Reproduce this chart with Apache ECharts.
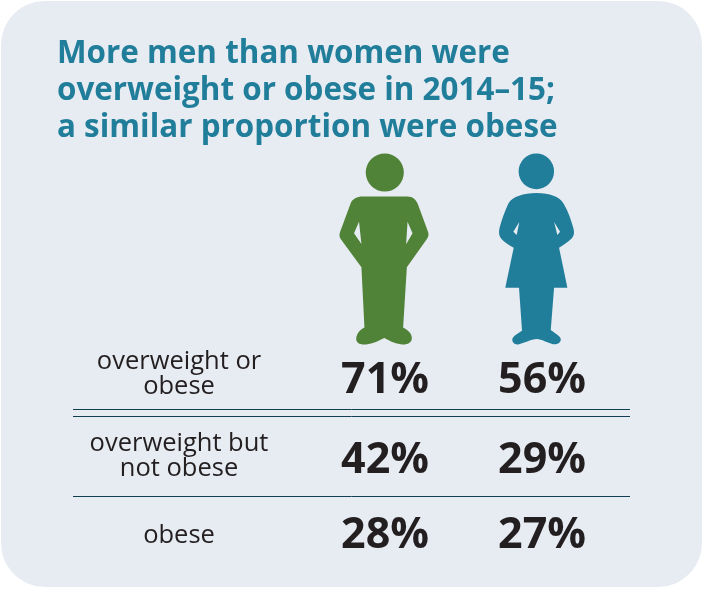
<!DOCTYPE html>
<html>
<head>
<meta charset="utf-8" />
<title>Overweight and obesity</title>
<script src="https://cdn.jsdelivr.net/npm/echarts@6/dist/echarts.min.js"></script>
<style>
html,body{margin:0;padding:0;background:#fff;}
#main{width:703px;height:589px;}
</style>
</head>
<body>
<div id="main"></div>
<script type="text/javascript">
var titleText = 'More men than women were\noverweight or obese in 2014–15;\na similar proportion were obese';
var rowLabels = ['overweight or\nobese', 'overweight but\nnot obese', 'obese'];
var groups = ['Men', 'Women'];
var menValues = [71, 42, 28];
var womenValues = [56, 29, 27];

var teal = '#217e9a';
var green = '#508238';
var dark = '#231f20';
var ruleColor = '#0f3f50';

function circlePath(cx, cy, r) {
  return 'M' + (cx - r) + ' ' + cy + 'A' + r + ' ' + r + ' 0 1 0 ' + (cx + r) + ' ' + cy
    + 'A' + r + ' ' + r + ' 0 1 0 ' + (cx - r) + ' ' + cy + 'Z';
}

// icons
var manPath = circlePath(384, 172.7, 19)
  + 'M362 196.7L406.5 196.7C412 196.7 415.5 200 417.3 205L427.3 232.3C428 235 427.5 237 426 239L406 267.3'
  + 'L402.3 327.3C407 330 411 333 411 338C411 343 405 345 400 344C393 343 388 340 383.5 337.7C379 340 373 343 366.7 344'
  + 'C360 345 355 343 355.5 338C356 333 360 329 363.7 327.3L360.7 267.3L340 239C338.7 237 338.5 235 339.3 232.3L350 203.3'
  + 'C352 199 356 196.7 362 196.7Z'
  + 'M358.3 221.7L353.3 233.3L360.7 244Z'
  + 'M406.7 221.7L405.3 244.3L411.7 233.3Z';
var womanPath = circlePath(536.3, 171.7, 17.7)
  + 'M536.5 193.3C550 193.3 559 197 563.3 203.3C568 211 571 220 573.3 228.3C574.5 233 574 236 571 239'
  + 'C568 242 563 245 559 247.7L567.3 287.3L554 287.3L550.7 329.3C554 332 560 335 560.7 338.3C561 342 557 344 553 343.5'
  + 'C547 342 542 338.5 536.7 338.3C531 338.5 525 342 519 343.5C515 344.5 512 342 512.3 338.3C513 335 519 332 522 330'
  + 'L519 287.3L505.3 287.3L513.7 247.7C509 245 504 242 501.5 239C499 236 498.5 233 499.5 228.3C501.5 220 505 211 508.5 203.3'
  + 'C513 197 523 193.3 536.5 193.3Z'
  + 'M519.3 222L513.3 231.7L516.7 235Z'
  + 'M554 222L557.3 235L560 231.7Z';

function rule(y) {
  return {type: 'line', silent: true, shape: {x1: 73, y1: y, x2: 630, y2: y},
    style: {stroke: ruleColor, lineWidth: 1}};
}

// each row sits a little off the even band centre
var valueNudge = [3, 5, 2];
var labelNudge = [-4, 0, 2];

function valueSeries(values, col) {
  return {
    type: 'scatter', xAxisIndex: 0, yAxisIndex: 0, symbolSize: 1,
    itemStyle: {color: 'transparent', opacity: 1},
    data: values.map(function (v, i) {
      return {
        value: [col, i],
        label: {
          show: true, position: 'inside', formatter: v + '%', offset: [0, valueNudge[i]],
          fontFamily: 'Open Sans', fontWeight: 'bold', fontSize: 43, color: dark
        }
      };
    })
  };
}

var myChart = echarts.init(document.getElementById('main'), null, {renderer: 'canvas'});

var yBase = {
  type: 'category', inverse: true, data: [0, 1, 2],
  axisLine: {show: false}, axisTick: {show: false}, axisLabel: {show: false}, splitLine: {show: false}
};

var option = {
  animation: false,
  backgroundColor: '#ffffff',
  title: {
    text: titleText, left: 57, top: 36, padding: 0,
    textStyle: {fontFamily: 'Open Sans', fontWeight: 'bold', fontSize: 31.4, lineHeight: 37, color: teal}
  },
  graphic: [
    {type: 'rect', z: -10, silent: true, shape: {x: 1, y: 1, width: 701, height: 586, r: 44}, style: {fill: '#e7ebf2'}},
    rule(409.5), rule(416.5), rule(496.5)
  ],
  grid: [
    {left: 306.5, width: 314, top: 339, height: 234},
    {left: 73, width: 212, top: 339, height: 234},
    {left: 305.5, width: 314, top: 152, height: 194}
  ],
  xAxis: [
    {type: 'category', gridIndex: 0, data: groups, show: false},
    {type: 'category', gridIndex: 1, data: ['row'], show: false},
    {type: 'category', gridIndex: 2, data: groups, show: false}
  ],
  yAxis: [
    Object.assign({gridIndex: 0, show: false}, yBase),
    Object.assign({gridIndex: 1, show: false}, yBase),
    {type: 'category', gridIndex: 2, show: false, data: ['icon']}
  ],
  series: [
    valueSeries(menValues, 0),
    valueSeries(womenValues, 1),
    {
      type: 'scatter', xAxisIndex: 1, yAxisIndex: 1, symbolSize: 1,
      itemStyle: {color: 'transparent', opacity: 1},
      data: rowLabels.map(function (t, i) {
        return {
          value: [0, i],
          label: {
            show: true, position: 'inside', formatter: t, offset: [0, labelNudge[i]],
            fontFamily: 'Open Sans', fontSize: 25.5, lineHeight: 25.5, color: dark, align: 'center'
          }
        };
      })
    },
    {
      type: 'scatter', xAxisIndex: 2, yAxisIndex: 2,
      data: [
        {value: [0, 0], symbol: 'path://' + manPath, symbolSize: [89, 191], itemStyle: {color: green, opacity: 1}},
        {value: [1, 0], symbol: 'path://' + womanPath, symbolSize: [75, 191], symbolOffset: [-4.5, 0], itemStyle: {color: teal, opacity: 1}}
      ]
    }
  ]
};

myChart.setOption(option);
</script>
</body>
</html>
